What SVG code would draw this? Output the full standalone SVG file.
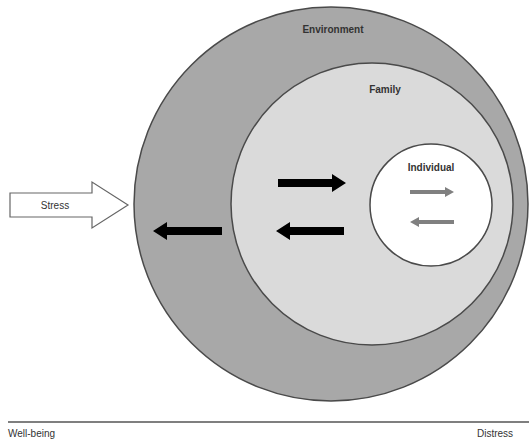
<svg xmlns="http://www.w3.org/2000/svg" width="529" height="444" viewBox="0 0 529 444">
<style>
.lbl{font-family:"Liberation Sans","DejaVu Sans",sans-serif;font-size:10px;font-weight:bold;fill:#333;text-anchor:middle}
.axis{font-family:"Liberation Sans","DejaVu Sans",sans-serif;font-size:10px;fill:#333}
.ring{stroke:#4a4a4a;stroke-width:1.5}
.blk{fill:#000}
.gry{fill:#808080}
</style>
<rect width="529" height="444" fill="#fff"/>
<g id="environment">
<circle class="ring" cx="331" cy="204" r="197" fill="#a8a8a8"/>
<text class="lbl" x="333" y="33">Environment</text>
</g>
<g id="family">
<circle class="ring" cx="372" cy="204" r="141" fill="#dadada"/>
<text class="lbl" x="385" y="93">Family</text>
</g>
<g id="individual">
<circle class="ring" cx="431" cy="205" r="61" fill="#fff"/>
<text class="lbl" x="431" y="171" font-size="11">Individual</text>
</g>
<g id="stress">
<polygon points="10,193 92,193 92,182 128,205 92,228 92,217 10,217" fill="#fff" stroke="#666" stroke-width="1.2"/>
<text class="axis" x="55" y="208.5" text-anchor="middle" font-size="9">Stress</text>
</g>
<g id="connectors">
<polygon class="blk" points="278,179 332,179 332,174 346,183 332,192 332,187 278,187"/>
<polygon class="blk" points="344,227 290,227 290,222 276,231 290,240 290,235 344,235"/>
<polygon class="blk" points="222,227 167,227 167,222 153,231 167,240 167,235 222,235"/>
<polygon class="gry" points="410,190 445,190 445,187 454,192 445,197 445,194 410,194"/>
<polygon class="gry" points="454,220 419,220 419,217 410,222 419,227 419,224 454,224"/>
</g>
<g id="scale">
<line x1="8" y1="422" x2="529" y2="422" stroke="#555" stroke-width="1.5"/>
<text class="axis" x="8" y="437">Well-being</text>
<text class="axis" x="477" y="437">Distress</text>
</g>
</svg>
